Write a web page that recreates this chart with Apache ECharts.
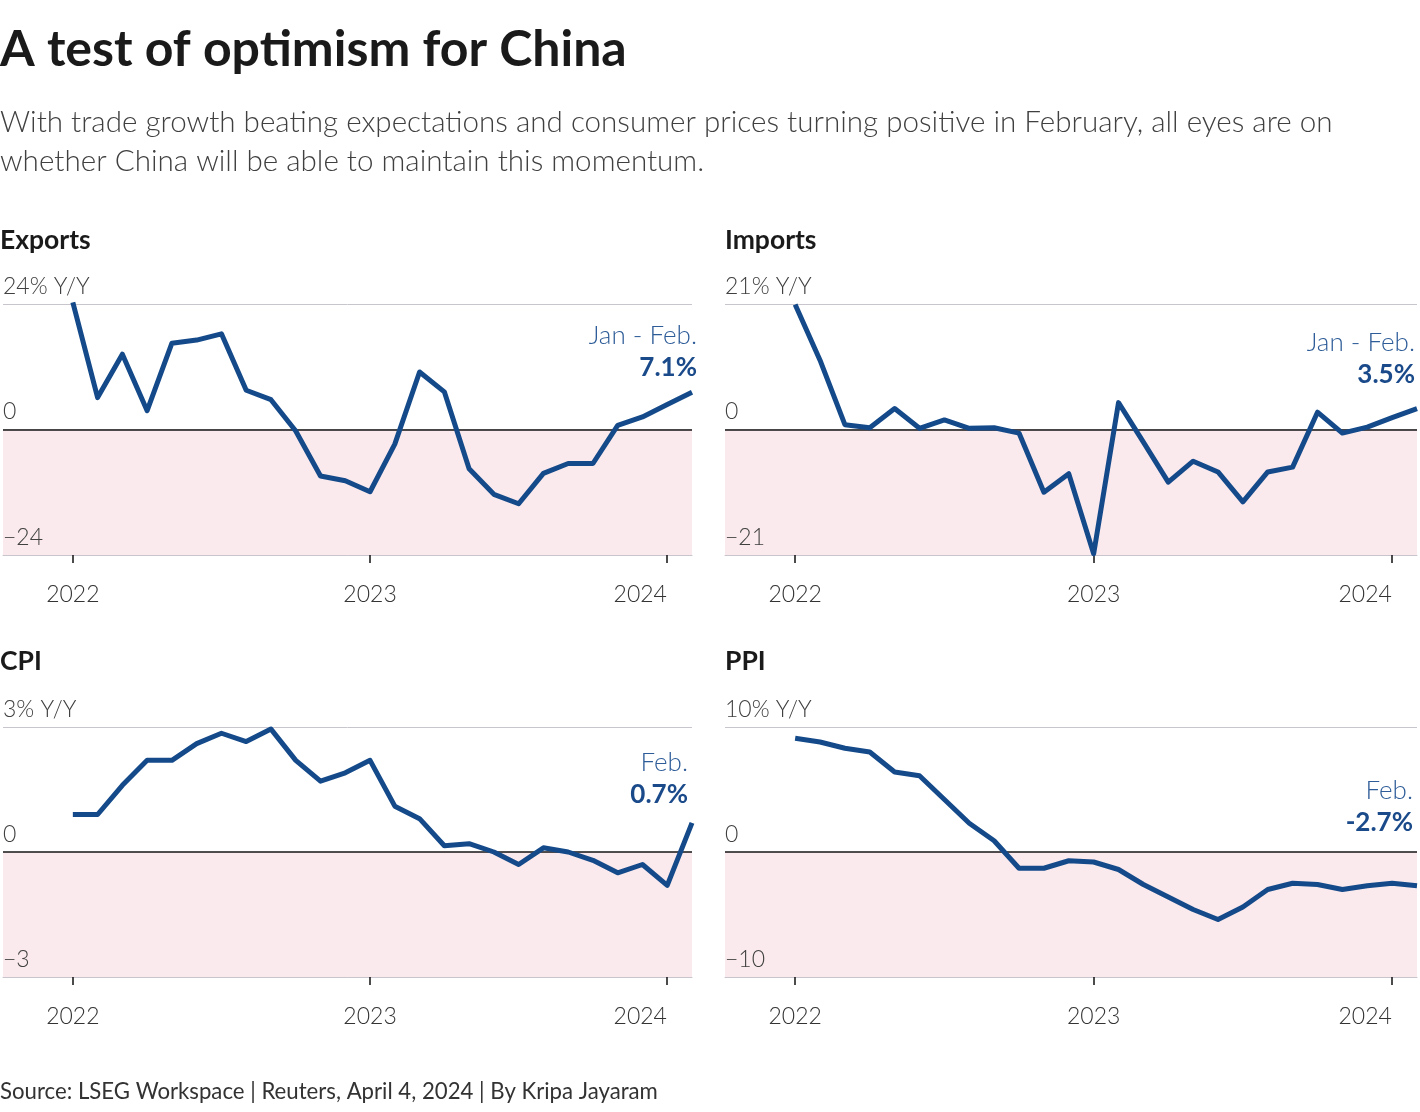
<!DOCTYPE html>
<html><head><meta charset="utf-8">
<script src="https://cdn.jsdelivr.net/npm/echarts@6/dist/echarts.min.js"></script>
<style>html,body{margin:0;padding:0;background:#fff}#c{width:1420px;height:1112px}</style>
</head><body><div id="c"></div>
<script>
// ---------- data ----------
const months = ['Jan 2022','Feb 2022','Mar 2022','Apr 2022','May 2022','Jun 2022','Jul 2022','Aug 2022','Sep 2022','Oct 2022','Nov 2022','Dec 2022',
  'Jan 2023','Feb 2023','Mar 2023','Apr 2023','May 2023','Jun 2023','Jul 2023','Aug 2023','Sep 2023','Oct 2023','Nov 2023','Dec 2023',
  'Jan 2024','Feb 2024'];
const yearTicks = ['2022','2023','2024'];
const exportsYoY = [24.3, 6.1, 14.4, 3.6, 16.5, 17.1, 18.3, 7.5, 5.7, -0.3, -8.9, -9.8,
  -11.9, -2.8, 11.0, 7.2, -7.5, -12.4, -14.2, -8.4, -6.5, -6.5, 0.8, 2.4, 4.8, 7.1];
const importsYoY = [20.9, 11.6, 0.8, 0.3, 3.5, 0.2, 1.6, 0.2, 0.3, -0.6, -10.5, -7.4,
  -20.8, 4.5, -2.1, -8.8, -5.3, -7.1, -12.1, -7.1, -6.3, 2.9, -0.6, 0.4, 2.0, 3.5];
const cpiYoY = [0.9, 0.9, 1.6, 2.2, 2.2, 2.6, 2.85, 2.65, 2.95, 2.2, 1.7, 1.9,
  2.2, 1.1, 0.8, 0.15, 0.2, 0.0, -0.3, 0.1, 0.0, -0.2, -0.5, -0.3, -0.8, 0.7];
const ppiYoY = [9.1, 8.8, 8.3, 8.0, 6.4, 6.1, 4.2, 2.3, 0.9, -1.3, -1.3, -0.7,
  -0.8, -1.4, -2.6, -3.6, -4.6, -5.4, -4.4, -3.0, -2.5, -2.6, -3.0, -2.7, -2.5, -2.7];
const panelNames = ['Exports', 'Imports', 'CPI', 'PPI'];
const axisExtents = [24, 21, 3, 10];
const notePeriods = ['Jan - Feb.', 'Jan - Feb.', 'Feb.', 'Feb.'];
const noteValues = ['7.1%', '3.5%', '0.7%', '-2.7%'];

// ---------- style ----------
const FONT = 'Lato, "Noto Sans", sans-serif';
const series = [exportsYoY, importsYoY, cpiYoY, ppiYoY];
const grids = [
  {left: 0, top: 304, width: 692, height: 251},
  {left: 725, top: 304, width: 692, height: 251},
  {left: 0, top: 727, width: 692, height: 250},
  {left: 725, top: 727, width: 692, height: 250}
];
const titlePos = [[0, 240], [725, 240], [0, 661], [725, 661]];
const notePos = [[697, 336], [1415, 343], [688, 763], [1413, 791]];
const LINE = '#154a8a';
const fmtY = (v, e) => v === e ? e + '% Y/Y' : (v < 0 ? '\u2212' + (-v) : String(v));

const firstYear = +yearTicks[0];
const tickVals = yearTicks.map(y => (+y - firstYear) * 12);
const lastTick = tickVals[tickVals.length - 1];
const option = {
  animation: false,
  backgroundColor: '#fff',
  grid: grids,
  xAxis: grids.map((g, i) => ({
    type: 'value', gridIndex: i, min: -2.82, max: months.length - 1,
    axisLine: {show: true, onZero: false, lineStyle: {color: '#c8c6cc', width: 1}},
    splitLine: {show: false},
    axisTick: {show: true, length: 8, lineStyle: {color: '#111', width: 1.5}, customValues: tickVals},
    axisLabel: {show: true, margin: 28, color: '#333', fontFamily: FONT, fontWeight: 300, fontSize: 23,
      customValues: tickVals,
      formatter: v => {
        const s = String(firstYear + Math.round(v / 12));
        return v === lastTick ? '{r|' + s + '}' : s;
      },
      rich: {r: {padding: [0, 54, 0, 0], color: '#333', fontFamily: FONT, fontWeight: 300, fontSize: 23}}}
  })),
  yAxis: axisExtents.map((e, i) => ({
    type: 'value', gridIndex: i, min: -e, max: e, interval: e,
    axisLine: {show: false}, axisTick: {show: false},
    splitLine: {show: true, lineStyle: {color: '#c8c6cc', width: 1}},
    axisLabel: {inside: true, showMinLabel: true, showMaxLabel: true, hideOverlap: false,
      verticalAlign: 'bottom', margin: 0, padding: [0, 0, 6, 0],
      color: '#404040', fontFamily: FONT, fontWeight: 300, fontSize: 23,
      formatter: v => fmtY(v, e)}
  })),
  series: []
};
series.forEach((vals, i) => {
  const e = axisExtents[i];
  option.series.push({
    type: 'line', xAxisIndex: i, yAxisIndex: i, data: [], z: 1, silent: true,
    markArea: {silent: true, itemStyle: {color: '#faeaed'},
      label: {show: true, position: 'insideBottomLeft', distance: 0, padding: [0, 0, 6, 0],
        formatter: () => fmtY(-e, e), color: '#404040', fontFamily: FONT, fontWeight: 300, fontSize: 23},
      data: [[{yAxis: -e}, {yAxis: 0}]]},
    markLine: {silent: true, symbol: 'none', label: {show: false},
      lineStyle: {color: '#151515', width: 1.5, type: 'solid'}, data: [{yAxis: 0}]}
  });
  option.series.push({
    type: 'line', xAxisIndex: i, yAxisIndex: i, z: 5, showSymbol: false, silent: true,
    lineStyle: {color: LINE, width: 5, join: 'round'},
    data: months.map((m, k) => [k, vals[k]])
  });
});

const graphics = [
  {type: 'text', left: 0, top: 25, style: {text: 'A test of optimism for China', font: 'bold 50px ' + FONT, fill: '#1a1a1a'}},
  {type: 'text', left: 0, top: 103, style: {text: 'With trade growth beating expectations and consumer prices turning positive in February, all eyes are on\nwhether China will be able to maintain this momentum.',
    font: '300 29.6px ' + FONT, fill: '#404040', lineHeight: 39}},
  {type: 'text', left: 0, top: 1081, style: {text: 'Source: LSEG Workspace | Reuters, April 4, 2024 | By Kripa Jayaram', font: '400 22.2px ' + FONT, fill: '#333'}}
];
panelNames.forEach((n, i) => {
  graphics.push({type: 'text', x: titlePos[i][0], y: titlePos[i][1],
    style: {text: n, font: 'bold 26.5px ' + FONT, fill: '#1a1a1a', verticalAlign: 'middle'}});
  graphics.push({type: 'text', x: notePos[i][0], y: notePos[i][1],
    style: {text: notePeriods[i], font: '300 26px ' + FONT, fill: '#2d5c98', align: 'right', verticalAlign: 'middle'}});
  graphics.push({type: 'text', x: notePos[i][0], y: notePos[i][1] + 32,
    style: {text: noteValues[i], font: 'bold 26px ' + FONT, fill: '#1a4a8a', align: 'right', verticalAlign: 'middle'}});
});
option.graphic = graphics;

const chart = echarts.init(document.getElementById('c'), null, {renderer: 'canvas'});
chart.setOption(option);
</script></body></html>
